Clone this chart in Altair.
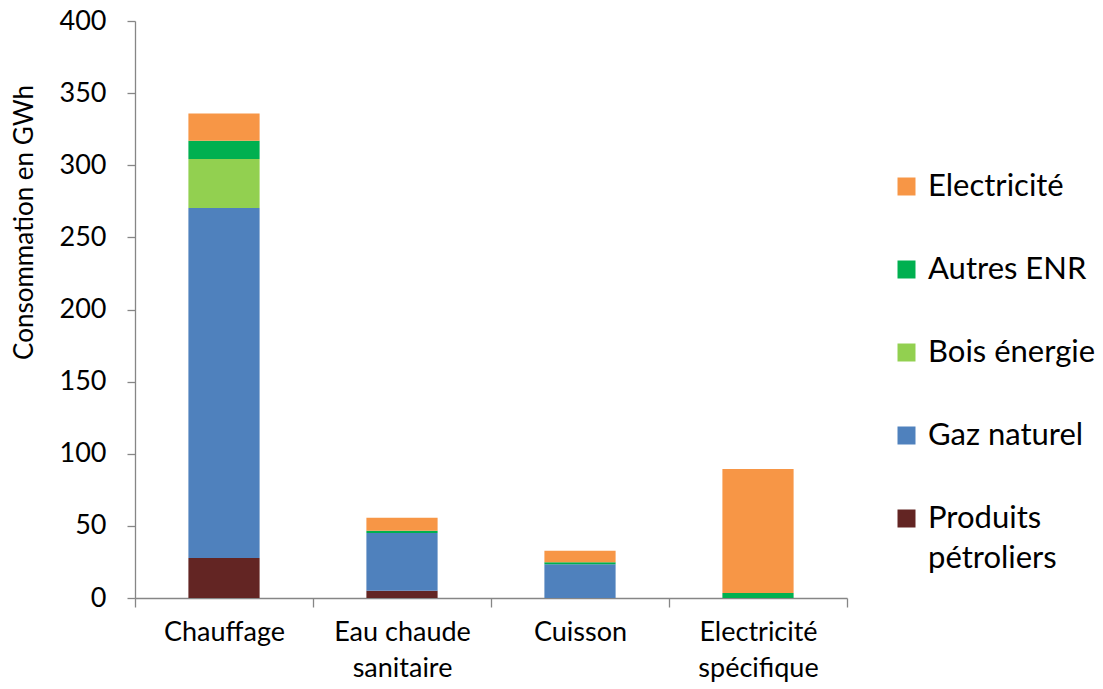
import altair as alt
import pandas as pd

categories = ["Chauffage", "Eau chaude sanitaire", "Cuisson", "Electricité spécifique"]
series = ["Produits pétroliers", "Gaz naturel", "Bois énergie", "Autres ENR", "Electricité"]
produits_petroliers = [27.7, 5.0, 0.0, 0.0]
gaz_naturel = [242.7, 40.0, 23.4, 0.0]
bois_energie = [34.0, 0.0, 0.0, 0.0]
autres_enr = [12.5, 1.7, 1.3, 3.5]
electricite = [19.0, 9.0, 8.0, 86.0]
colors = ["#632523", "#4F81BD", "#92D050", "#00B050", "#F79646"]
legend_order = ["Electricité", "Autres ENR", "Bois énergie", "Gaz naturel", "Produits pétroliers"]
y_ticks = [0, 50, 100, 150, 200, 250, 300, 350, 400]

values = [produits_petroliers, gaz_naturel, bois_energie, autres_enr, electricite]
rows = []
for si, (name, vals) in enumerate(zip(series, values)):
    for cat, v in zip(categories, vals):
        if v > 0:
            rows.append({"usage": cat, "energie": name, "valeur": v, "rang": si})
df = pd.DataFrame(rows)

color_map = dict(zip(series, colors))
FONT = "Lato"

x_label_expr = ("datum.label == 'Eau chaude sanitaire' ? ['Eau chaude', 'sanitaire'] : "
                "datum.label == 'Electricité spécifique' ? ['Electricité', 'spécifique'] : datum.label")
legend_label_expr = ("datum.label == 'Produits pétroliers' ? ['Produits', 'pétroliers'] : datum.label")

chart = alt.Chart(df).mark_bar(width=alt.RelativeBandSize(0.4)).encode(
    x=alt.X("usage:N", sort=categories,
            scale=alt.Scale(paddingInner=0, paddingOuter=0),
            axis=alt.Axis(title=None, labelAngle=0, tickBand="extent", labelExpr=x_label_expr,
                          labelFontSize=27, labelLineHeight=36, labelFont=FONT, labelColor="#000000",
                          domainColor="#868686", tickColor="#868686", tickSize=9, labelPadding=12,
                          domainWidth=1.3, tickWidth=1.3)),
    y=alt.Y("valeur:Q", stack="zero",
            scale=alt.Scale(domain=[0, 400], nice=False),
            axis=alt.Axis(title="Consommation en GWh", values=y_ticks, grid=False,
                          labelFontSize=27, labelFont=FONT, labelColor="#000000",
                          titleFontSize=26, titleFont=FONT, titleFontWeight="normal", titleColor="#000000",
                          titleX=-98, titleY=201, titleAngle=-90, titleAlign="center", titleBaseline="bottom",
                          domainColor="#868686", tickColor="#868686", tickSize=8, labelPadding=21,
                          domainWidth=1.3, tickWidth=1.3)),
    color=alt.Color("energie:N",
                    scale=alt.Scale(domain=legend_order, range=[color_map[s] for s in legend_order]),
                    legend=alt.Legend(title=None, orient="none", legendX=756, legendY=150,
                                      symbolType="square", symbolSize=324, symbolStrokeWidth=0,
                                      labelFontSize=31, labelFont=FONT, labelColor="#000000",
                                      labelLimit=300, labelOffset=6, rowPadding=51,
                                      labelExpr=legend_label_expr)),
    order=alt.Order("rang:Q", sort="ascending"),
).properties(
    width=712, height=577,
    autosize=alt.AutoSizeParams(type="none"),
    padding={"left": 135, "top": 21, "right": 256, "bottom": 91},
).configure(
    style={"guide-label": {"lineHeight": 40}}
).configure_view(stroke=None)

chart.save("out.html", embed_options={"renderer": "svg", "actions": False})
